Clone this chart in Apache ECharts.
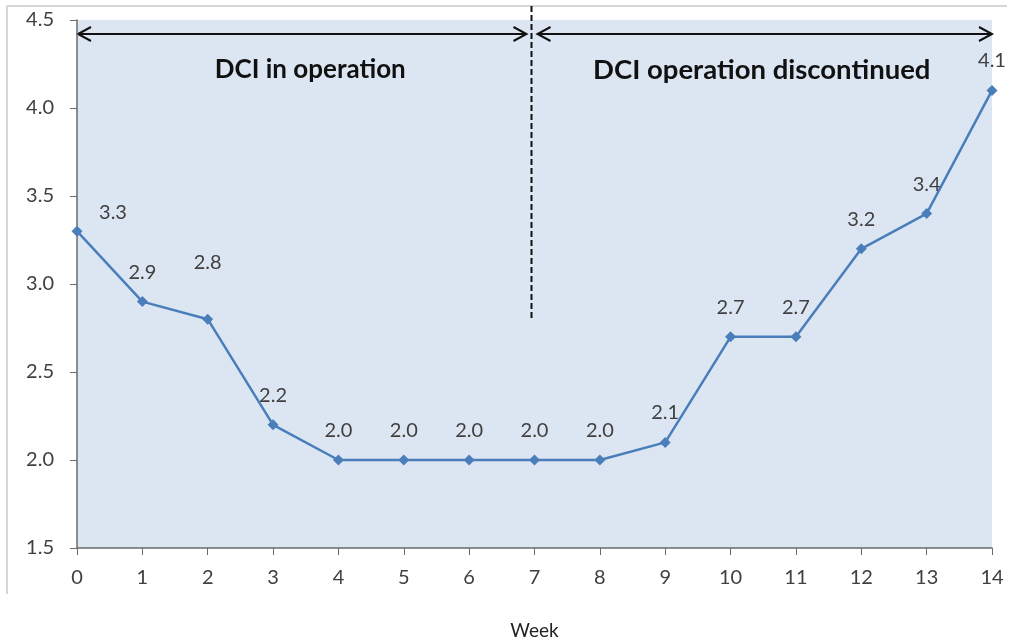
<!DOCTYPE html>
<html>
<head>
<meta charset="utf-8">
<script src="https://cdn.jsdelivr.net/npm/echarts@6/dist/echarts.min.js"></script>
<style>
  html, body { margin: 0; padding: 0; background: #fff; }
  #main { width: 1011px; height: 643px; }
</style>
</head>
<body>
<div id="main"></div>
<script>
// data
const weeks = ["0", "1", "2", "3", "4", "5", "6", "7", "8", "9", "10", "11", "12", "13", "14"];
const values = [3.3, 2.9, 2.8, 2.2, 2.0, 2.0, 2.0, 2.0, 2.0, 2.1, 2.7, 2.7, 3.2, 3.4, 4.1];
const yTicks = [1.5, 2.0, 2.5, 3.0, 3.5, 4.0, 4.5];
const phaseLabels = ["DCI in operation", "DCI operation discontinued"];

const font = "Lato, 'Noto Sans', sans-serif";
const axisColor = "#6b6b6b";
const lineColor = "#4a7ebb";

const chart = echarts.init(document.getElementById("main"));

// label tweaks like in the original (excel placed a couple of them off)
const labelFor = (i) => {
	if (i === 0) return { distance: 3, offset: [36, 0] };
	if (i === 2) return { distance: 41 };
	return {};
};

const option = {
	animation: false,
	grid: {
		left: 77, right: 19, top: 20, bottom: 95,
		outerBoundsMode: "none",
		show: true, backgroundColor: "#dce6f2", borderWidth: 0
	},
	xAxis: {
		type: "category",
		data: weeks,
		boundaryGap: false,
		axisLine: { lineStyle: { color: axisColor, width: 1.5 } },
		axisTick: { alignWithLabel: true, length: 7, lineStyle: { color: axisColor } },
		axisLabel: { color: "#404040", fontSize: 20, fontFamily: font, margin: 20 },
		name: "Week",
		nameLocation: "middle",
		nameGap: 73,
		nameTextStyle: { color: "#222", fontSize: 19, fontFamily: font }
	},
	yAxis: {
		type: "value",
		min: yTicks[0],
		max: yTicks[yTicks.length - 1],
		interval: 0.5,
		splitLine: { show: false },
		axisLine: { show: true, lineStyle: { color: axisColor, width: 1.5 } },
		axisTick: { show: true, length: 7, lineStyle: { color: axisColor } },
		axisLabel: {
			color: "#404040", fontSize: 20, fontFamily: font, margin: 23,
			formatter: (v) => v.toFixed(1)
		}
	},
	series: [
		{
			type: "line",
			data: values.map((v, i) => ({ value: v, label: labelFor(i) })),
			symbol: "diamond",
			symbolSize: 11,
			lineStyle: { color: lineColor, width: 2.5 },
			itemStyle: { color: lineColor },
			label: {
				show: true,
				position: "top",
				distance: 14,
				color: "#404040",
				fontSize: 20,
				fontFamily: font,
				formatter: (p) => p.value.toFixed(1)
			}
		}
	]
};

chart.setOption(option);

// annotations placed through the chart's own scales
const px = (x, y) => chart.convertToPixel({ gridIndex: 0 }, [x, y]);
const [x0, yTop] = px(0, 4.5);
const [x7] = px(7, 4.5);
const [x14] = px(14, 4.5);
const [, yDashEnd] = px(0, 2.8);
const yArrow = yTop + 14;
const divX = x7 - 3;
const ah = 7, aw = 13;
const arrowStyle = { stroke: "#111", lineWidth: 2, fill: null };

const graphics = [
	// outer frame (top and left edges only, as in the scan)
	{ type: "line", shape: { x1: 7, y1: 6, x2: 1007, y2: 6 }, style: { stroke: "#c8c8c8", lineWidth: 1.5 } },
	{ type: "line", shape: { x1: 7, y1: 6, x2: 7, y2: 594 }, style: { stroke: "#c8c8c8", lineWidth: 1.5 } },
	// divider
	{ type: "line", shape: { x1: divX, y1: 6, x2: divX, y2: yDashEnd }, style: { stroke: "#111", lineWidth: 2, lineDash: [6, 3] } },
	// left arrow
	{ type: "line", shape: { x1: x0 + 1, y1: yArrow, x2: divX - 5, y2: yArrow }, style: arrowStyle },
	{ type: "polyline", shape: { points: [[x0 + 1 + aw, yArrow - ah], [x0 + 1, yArrow], [x0 + 1 + aw, yArrow + ah]] }, style: arrowStyle },
	{ type: "polyline", shape: { points: [[divX - 5 - aw, yArrow - ah], [divX - 5, yArrow], [divX - 5 - aw, yArrow + ah]] }, style: arrowStyle },
	// right arrow
	{ type: "line", shape: { x1: divX + 6, y1: yArrow, x2: x14, y2: yArrow }, style: arrowStyle },
	{ type: "polyline", shape: { points: [[divX + 6 + aw, yArrow - ah], [divX + 6, yArrow], [divX + 6 + aw, yArrow + ah]] }, style: arrowStyle },
	{ type: "polyline", shape: { points: [[x14 - aw, yArrow - ah], [x14, yArrow], [x14 - aw, yArrow + ah]] }, style: arrowStyle },
	// phase captions
	{
		type: "text", x: (x0 + divX) / 2 + 6, y: yTop + 50,
		style: { text: phaseLabels[0], font: "bold 26px " + font, fill: "#111", align: "center", verticalAlign: "middle" }
	},
	{
		type: "text", x: (divX + x14) / 2, y: yTop + 50,
		style: { text: phaseLabels[1], font: "bold 27.5px " + font, fill: "#111", align: "center", verticalAlign: "middle" }
	}
];

chart.setOption({ graphic: graphics });
</script>
</body>
</html>
